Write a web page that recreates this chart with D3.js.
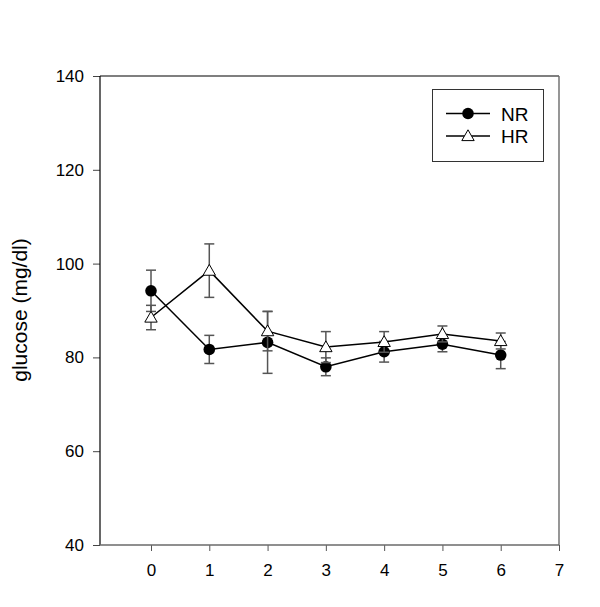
<!DOCTYPE html>
<html>
<head>
<meta charset="utf-8">
<script src="https://cdn.jsdelivr.net/npm/d3@7"></script>
<style>
  body { margin: 0; background: #fff; }
  svg text { font-family: Arial, "Liberation Sans", sans-serif; fill: #000; }
</style>
</head>
<body>
<svg id="chart" width="600" height="607"></svg>
<script>
// days after treatment
var days = [0, 1, 2, 3, 4, 5, 6];
var xTicks = [0, 1, 2, 3, 4, 5, 6, 7];
var yTicks = [40, 60, 80, 100, 120, 140];

// NR group: mean and error
var nrMean = [94.2, 81.7, 83.2, 78.0, 81.2, 82.8, 80.5];
var nrErr = [4.4, 3.0, 6.6, 1.9, 2.2, 1.6, 2.9];

// HR group: mean and error
var hrMean = [88.5, 98.5, 85.6, 82.2, 83.3, 85.0, 83.5];
var hrErr = [2.6, 5.7, 4.2, 3.3, 2.2, 1.7, 1.7];

var margin = {top: 76, right: 41, bottom: 62, left: 100};
var width = 600 - margin.left - margin.right;
var height = 607 - margin.top - margin.bottom;

var svg = d3.select('#chart');
var g = svg.append('g')
  .attr('transform', 'translate(' + margin.left + ',' + margin.top + ')');

var x = d3.scaleLinear().domain([-0.875, 7]).range([0, width]);
var y = d3.scaleLinear().domain([40, 140]).range([height, 0]);

// axes
var yAxis = g.append('g')
  .call(d3.axisLeft(y).tickValues(yTicks).tickSize(7).tickPadding(9));
yAxis.select('.domain').remove();
yAxis.selectAll('text').style('font-size', '17px');
yAxis.selectAll('line').attr('stroke', '#444');

var xAxis = g.append('g')
  .attr('transform', 'translate(0,' + height + ')')
  .call(d3.axisBottom(x).tickValues(xTicks).tickSize(6).tickPadding(13).tickFormat(d3.format('d')));
xAxis.select('.domain').remove();
xAxis.selectAll('text').style('font-size', '17px');
xAxis.selectAll('line').attr('stroke', '#555');

// frame
g.append('line').attr('x1', 0).attr('x2', width).attr('y1', 0).attr('y2', 0)
  .attr('stroke', '#000').attr('stroke-width', 1.2);
g.append('line').attr('x1', 0).attr('x2', 0).attr('y1', 0).attr('y2', height)
  .attr('stroke', '#000').attr('stroke-width', 1.2);
g.append('line').attr('x1', 0).attr('x2', width).attr('y1', height).attr('y2', height)
  .attr('stroke', '#6a6a6a').attr('stroke-width', 1.4);
g.append('line').attr('x1', width).attr('x2', width).attr('y1', 0).attr('y2', height)
  .attr('stroke', '#6a6a6a').attr('stroke-width', 1.4);

// y label
svg.append('text')
  .attr('transform', 'translate(27,310) rotate(-90)')
  .attr('text-anchor', 'middle')
  .style('font-size', '21px')
  .text('glucose (mg/dl)');

var triPath = 'M0,-6.2L6.2,4.6L-6.2,4.6Z';

function drawSeries(mean, err, kind) {
  var pts = days.map(function(d, i) { return {x: d, m: mean[i], e: err[i]}; });

  var eb = g.append('g').attr('stroke', '#555').attr('stroke-width', 1.5);
  pts.forEach(function(p) {
    var cx = x(p.x);
    eb.append('line').attr('x1', cx).attr('x2', cx)
      .attr('y1', y(p.m + p.e)).attr('y2', y(p.m - p.e));
    eb.append('line').attr('x1', cx - 5).attr('x2', cx + 5)
      .attr('y1', y(p.m + p.e)).attr('y2', y(p.m + p.e));
    eb.append('line').attr('x1', cx - 5).attr('x2', cx + 5)
      .attr('y1', y(p.m - p.e)).attr('y2', y(p.m - p.e));
  });

  g.append('path')
    .datum(pts)
    .attr('fill', 'none')
    .attr('stroke', '#000')
    .attr('stroke-width', 1.5)
    .attr('d', d3.line().x(function(p) { return x(p.x); }).y(function(p) { return y(p.m); }));

  if (kind === 'circle') {
    g.selectAll('.dot-nr')
      .data(pts)
      .enter().append('circle').attr('class', 'dot-nr')
        .attr('cx', function(p) { return x(p.x); })
        .attr('cy', function(p) { return y(p.m); })
        .attr('r', 5.8)
        .attr('fill', '#000');
  } else {
    g.selectAll('.dot-hr')
      .data(pts)
      .enter().append('path').attr('class', 'dot-hr')
        .attr('transform', function(p) { return 'translate(' + x(p.x) + ',' + y(p.m) + ')'; })
        .attr('d', triPath)
        .attr('fill', '#fff')
        .attr('stroke', '#000')
        .attr('stroke-width', 1);
  }
}

drawSeries(nrMean, nrErr, 'circle');
drawSeries(hrMean, hrErr, 'triangle');

// legend
var lg = svg.append('g');
lg.append('rect').attr('x', 432.5).attr('y', 89.5).attr('width', 111).attr('height', 72)
  .attr('fill', '#fff').attr('stroke', '#333').attr('stroke-width', 1);
var legendItems = [{name: 'NR', kind: 'circle', y: 113.5}, {name: 'HR', kind: 'triangle', y: 136}];
legendItems.forEach(function(it) {
  lg.append('line').attr('x1', 446).attr('x2', 490).attr('y1', it.y).attr('y2', it.y)
    .attr('stroke', '#000').attr('stroke-width', 1.3);
  if (it.kind === 'circle') {
    lg.append('circle').attr('cx', 468).attr('cy', it.y).attr('r', 5.8).attr('fill', '#000');
  } else {
    lg.append('path').attr('transform', 'translate(468,' + it.y + ')').attr('d', triPath)
      .attr('fill', '#fff').attr('stroke', '#000').attr('stroke-width', 1);
  }
  lg.append('text').attr('x', 501).attr('y', it.y + 7)
    .style('font-size', '19px').text(it.name);
});
</script>
</body>
</html>
